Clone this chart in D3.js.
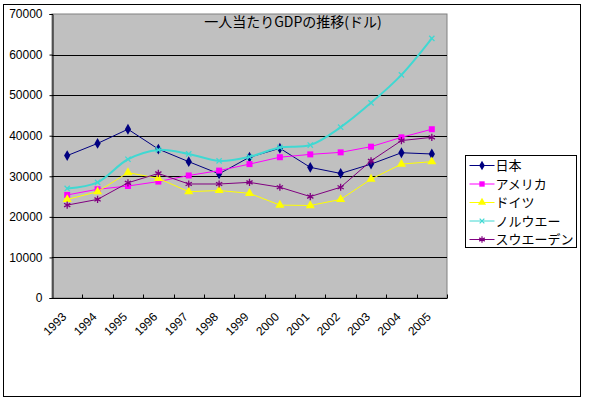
<!DOCTYPE html>
<html>
<head>
<meta charset="utf-8">
<script src="https://cdn.jsdelivr.net/npm/d3@7"></script>
<style>
  body { margin: 0; background: #fff; }
  text { font-family: "Liberation Sans", Arial, sans-serif; }
  .jp { font-family: "Noto Sans CJK JP", sans-serif; }
</style>
</head>
<body>
<div id="chart"></div>
<script>
// data
const years = ["1993","1994","1995","1996","1997","1998","1999","2000","2001","2002","2003","2004","2005"];
const yTicks = [0, 10000, 20000, 30000, 40000, 50000, 60000, 70000];
const japan   = [35100, 38100, 41600, 36700, 33600, 30600, 34700, 36900, 32200, 30700, 33000, 35800, 35500];
const usa     = [25400, 26800, 27600, 28700, 30200, 31400, 33000, 34700, 35400, 35900, 37300, 39600, 41600];
const germany = [24300, 26200, 30900, 29500, 26200, 26500, 25800, 22900, 22800, 24300, 29300, 33000, 33600];
const norway  = [27000, 28500, 34200, 36500, 35500, 33800, 34800, 37100, 37700, 42100, 48100, 55000, 64000];
const sweden  = [22900, 24300, 28400, 30700, 28100, 28100, 28500, 27300, 25000, 27300, 33800, 38800, 39600];

const seriesNames = ["日本", "アメリカ", "ドイツ", "ノルウエー", "スウエーデン"];

let series = [
    {name: seriesNames[0], values: japan,   color: "#000080", symbol: d3.symbolDiamond,  size: 34, fill: true,  width: 1},
    {name: seriesNames[1], values: usa,     color: "#FF00FF", symbol: d3.symbolSquare,   size: 36, fill: true,  width: 1},
    {name: seriesNames[2], values: germany, color: "#FFFF00", symbol: d3.symbolTriangle, size: 36, fill: true,  width: 1},
    {name: seriesNames[3], values: norway,  color: "#40D8D2", symbol: d3.symbolTimes,    size: 20, fill: false, width: 2, smooth: true},
    {name: seriesNames[4], values: sweden,  color: "#800080", symbol: d3.symbolAsterisk, size: 36, fill: false, width: 1}
];

let width = 591, height = 401;
let plot = {left: 52, right: 447, top: 14, bottom: 298};

let svg = d3.select("#chart").append("svg")
    .attr("width", width)
    .attr("height", height);

// outer frame
svg.append("rect")
    .attr("x", 3.5).attr("y", 4.5)
    .attr("width", 577).attr("height", 392)
    .attr("fill", "#fff")
    .attr("stroke", "#000");

let x = d3.scaleBand().domain(years).range([plot.left, plot.right]);
let y = d3.scaleLinear().domain([0, 70000]).range([plot.bottom, plot.top]);
let cx = d => x(d) + x.bandwidth() / 2;

// plot area
svg.append("rect")
    .attr("x", plot.left).attr("y", plot.top)
    .attr("width", plot.right - plot.left).attr("height", plot.bottom - plot.top)
    .attr("fill", "#C0C0C0")
    .attr("stroke", "#808080");

// gridlines
svg.append("g")
    .selectAll("line")
    .data(yTicks.filter(d => d > 0 && d < 70000))
    .enter().append("line")
    .attr("x1", plot.left).attr("x2", plot.right)
    .attr("y1", d => Math.round(y(d)) + 0.5).attr("y2", d => Math.round(y(d)) + 0.5)
    .attr("stroke", "#000");

// y axis
let yAxis = svg.append("g")
    .attr("transform", "translate(" + (plot.left + 0.5) + ",0)")
    .call(d3.axisLeft(y).tickValues(yTicks).tickFormat(d3.format("d")).tickSizeOuter(0).tickSize(3).tickPadding(7));
yAxis.select(".domain").attr("stroke", "#000");
yAxis.selectAll("text").style("font-size", "12px").attr("fill", "#000");

// x axis with ticks at category boundaries, pointing inwards
let xAxis = svg.append("g")
    .attr("transform", "translate(0," + (plot.bottom + 0.5) + ")");
xAxis.append("line")
    .attr("x1", plot.left).attr("x2", plot.right)
    .attr("stroke", "#000");
xAxis.selectAll(".tk")
    .data(years)
    .enter().append("line")
    .attr("class", "tk")
    .attr("x1", d => Math.round(x(d) + x.bandwidth()) + 0.5)
    .attr("x2", d => Math.round(x(d) + x.bandwidth()) + 0.5)
    .attr("y1", 0).attr("y2", -4)
    .attr("stroke", "#000");
xAxis.selectAll("text")
    .data(years)
    .enter().append("text")
    .attr("transform", d => "translate(" + (cx(d) - 3) + ",16) rotate(-45)")
    .attr("text-anchor", "end")
    .attr("dy", "0.35em")
    .style("font-size", "12px")
    .text(d => d);

// title
svg.append("text")
    .attr("class", "jp")
    .attr("x", 293).attr("y", 27)
    .attr("text-anchor", "middle")
    .style("font-size", "14px")
    .text("一人当たりGDPの推移(ドル)");

// lines and markers
series.forEach(function (s) {
    let line = d3.line()
        .x((d, i) => cx(years[i]))
        .y(d => y(d))
        .curve(s.smooth ? d3.curveCatmullRom.alpha(0.5) : d3.curveLinear);

    svg.append("path")
        .datum(s.values)
        .attr("d", line)
        .attr("fill", "none")
        .attr("stroke", s.color)
        .attr("stroke-width", s.width);

    svg.append("g")
        .selectAll("path")
        .data(s.values)
        .enter().append("path")
        .attr("transform", (d, i) => "translate(" + cx(years[i]) + "," + y(d) + ")")
        .attr("d", d3.symbol().type(s.symbol).size(s.size))
        .attr("fill", s.fill ? s.color : "none")
        .attr("stroke", s.color)
        .attr("stroke-width", s.fill ? 0 : 1.3);
});

// legend
let legend = svg.append("g")
    .attr("transform", "translate(465.5,155.5)");
legend.append("rect")
    .attr("width", 111).attr("height", 92)
    .attr("fill", "#fff")
    .attr("stroke", "#000");

let items = legend.selectAll(".item")
    .data(series)
    .enter().append("g")
    .attr("class", "item")
    .attr("transform", (d, i) => "translate(0," + (10 + i * 18.5) + ")");
items.append("line")
    .attr("x1", 4).attr("x2", 29)
    .attr("stroke", d => d.color)
    .attr("stroke-width", 1);
items.append("path")
    .attr("transform", "translate(16.5,0)")
    .attr("d", d => d3.symbol().type(d.symbol).size(d.size * 0.8)())
    .attr("fill", d => d.fill ? d.color : "none")
    .attr("stroke", d => d.color)
    .attr("stroke-width", d => d.fill ? 0 : 1.2);
items.append("text")
    .attr("class", "jp")
    .attr("x", 30)
    .attr("dy", "0.35em")
    .style("font-size", "13px")
    .text(d => d.name);
</script>
</body>
</html>
